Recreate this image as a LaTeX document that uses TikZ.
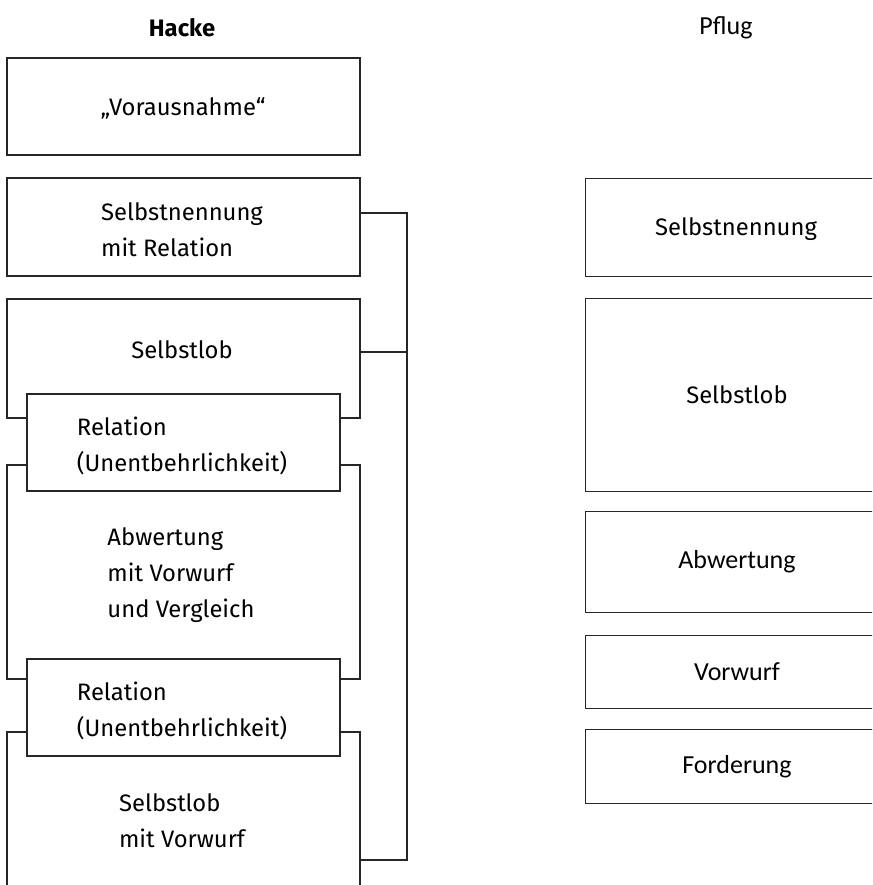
\documentclass[tikz,border=0pt]{standalone}
\usepackage{fontspec}
\setmainfont{Fira Sans}
\newfontfamily\calib{Carlito}
\begin{document}
\begin{tikzpicture}[x=1pt,y=-1pt,
  ln/.style={line width=1.2pt, draw=black!85},
  box/.style={ln, rectangle, inner sep=0pt, fill=white},
  txt/.style={align=left, inner sep=0pt, font=\fontsize{23.8}{36}\selectfont},
  rtxt/.style={inner sep=0pt, font=\calib\fontsize{26}{32}\selectfont},
]
\useasboundingbox (0,0) rectangle (872,885);
\clip (0,0) rectangle (872,885);
% titles
\node[txt, font=\bfseries\fontsize{23.8}{36}\selectfont] (hacke) at (182,28) {Hacke};
\node[rtxt] (pflug) at (726,28) {Pflug};
% left column
\node[box, minimum width=353pt, minimum height=97pt] (vor) at (183.5,106.5) {};
\node[txt] (vort) at (183,108) {„Vorausnahme“};
\node[box, minimum width=353pt, minimum height=98pt] (sn) at (183.5,227) {};
\node[txt] (snt) at (182,230) {Selbstnennung\\mit Relation};
% Selbstlob (open bottom)
\draw[ln] (27,418) -- (7,418) -- (7,299) -- (360,299) -- (360,418) -- (340,418);
\node[txt] (slt) at (182,350) {Selbstlob};
\node[box, minimum width=313pt, minimum height=97pt] (rel1) at (183.5,442.5) {};
\node[txt] (rel1t) at (182,446) {Relation\\(Unentbehrlichkeit)};
% Abwertung (open top/bottom)
\draw[ln] (27,465) -- (7,465) -- (7,679) -- (27,679);
\draw[ln] (340,465) -- (360,465) -- (360,679) -- (340,679);
\node[txt] (abt) at (181,575) {Abwertung\\mit Vorwurf\\und Vergleich};
\node[box, minimum width=313pt, minimum height=97pt] (rel2) at (183.5,707.5) {};
\node[txt] (rel2t) at (182,711) {Relation\\(Unentbehrlichkeit)};
% Selbstlob mit Vorwurf (open top/bottom)
\draw[ln] (27,732) -- (7,732) -- (7,895);
\draw[ln] (340,732) -- (360,732) -- (360,895);
\node[txt] (slvt) at (182,821) {Selbstlob\\mit Vorwurf};
% bracket
\coordinate (b1) at (407,213);
\coordinate (b2) at (407,352);
\coordinate (b3) at (407,860);
\draw[ln] (b1 -| sn.east) -- (b1) -- (b3) -- ++(-47,0);
\draw[ln] (b2) -- ++(-47,0);
% right column
\node[box, minimum width=300pt, minimum height=98pt, anchor=north west] (rsn) at (585,178) {};
\node[txt] (rsnt) at (736,229) {Selbstnennung};
\node[box, minimum width=300pt, minimum height=193pt, anchor=north west] (rsl) at (585,298) {};
\node[txt] (rslt) at (737,395) {Selbstlob};
\node[box, minimum width=300pt, minimum height=101pt, anchor=north west] (rab) at (585,511) {};
\node[rtxt] (rabt) at (737,562) {Abwertung};
\node[box, minimum width=300pt, minimum height=73pt, anchor=north west] (rvw) at (585,635) {};
\node[rtxt] (rvwt) at (737,672) {Vorwurf};
\node[box, minimum width=300pt, minimum height=74pt, anchor=north west] (rfo) at (585,729) {};
\node[rtxt] (rfot) at (737,767) {Forderung};
\end{tikzpicture}
\end{document}
